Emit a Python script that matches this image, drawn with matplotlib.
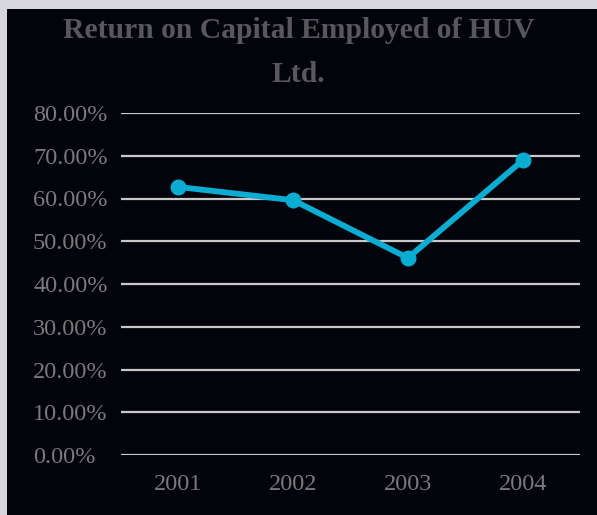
import matplotlib.pyplot as plt
from matplotlib.patches import Rectangle
from matplotlib.ticker import FuncFormatter

years = ['2001', '2002', '2003', '2004']
roce = [0.627, 0.596, 0.461, 0.689]
yticks = [0.0, 0.1, 0.2, 0.3, 0.4, 0.5, 0.6, 0.7, 0.8]

plt.rcParams['font.family'] = ['Liberation Serif', 'DejaVu Serif']

bg = '#03030b'
fig = plt.figure(figsize=(5.97, 5.15), dpi=100, facecolor='#d6d6dc')
# dark panel with a thin light frame on the left and top
fig.patches.append(Rectangle((7 / 597, 0), 1, 1 - 9 / 515, transform=fig.transFigure,
                             facecolor=bg, edgecolor='none', zorder=-10))

ax = fig.add_axes([121 / 597, 1 - 455 / 515, (580 - 121) / 597, (455 - 113) / 515])
ax.set_facecolor(bg)
x = range(len(years))
ax.plot(x, roce, color='#0aacd2', lw=4.2, marker='o', ms=10.5, solid_capstyle='round', zorder=3)

ax.set_xlim(-0.5, len(years) - 0.5)
ax.set_ylim(0, 0.8)
ax.set_yticks(yticks)
ax.yaxis.set_major_formatter(FuncFormatter(lambda v, p: f'{v * 100:.2f}%'))
ax.set_xticks(list(x))
ax.set_xticklabels(years)
ax.grid(axis='y', color='#c8c8c8', lw=1.6, zorder=1)
ax.set_axisbelow(True)
for s in ax.spines.values():
    s.set_visible(False)
ax.tick_params(length=0, labelsize=17.5, colors='#7a7a7a')
# percentage labels start flush at the left margin
ax.tick_params(axis='y', pad=(121 - 33) * 0.72)
for lbl in ax.get_yticklabels():
    lbl.set_horizontalalignment('left')
ax.tick_params(axis='x', pad=14)

fig.text(0.5, 1 - 30 / 515, 'Return on Capital Employed of HUV', ha='center', va='center',
         fontsize=21.3, fontweight='bold', color='#58585c')
fig.text(0.5, 1 - 74 / 515, 'Ltd.', ha='center', va='center',
         fontsize=21.3, fontweight='bold', color='#58585c')

fig.savefig('out.png', dpi=100, facecolor=fig.get_facecolor())
